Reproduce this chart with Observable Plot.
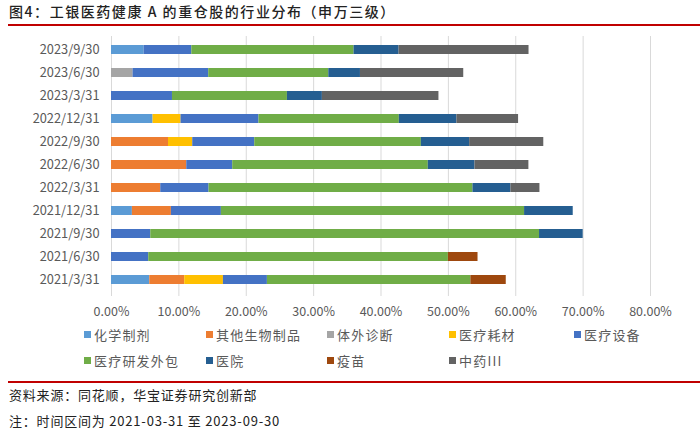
<!DOCTYPE html>
<html>
<head>
<meta charset="utf-8">
<script src="https://cdn.jsdelivr.net/npm/d3@7"></script>
<script src="https://cdn.jsdelivr.net/npm/@observablehq/plot@0.6"></script>
<style>
  html, body { margin: 0; padding: 0; background: #fff; }
  #wrap { position: relative; width: 700px; height: 435px; overflow: hidden; font-family: "Noto Sans CJK SC", "Noto Sans", sans-serif; }
  .title { position: absolute; left: 9px; top: 1px; font-size: 14px; font-weight: 500; color: #222; letter-spacing: 1.55px; white-space: nowrap; }
  .redline { position: absolute; left: 8px; right: 0; height: 2px; background: #c00000; }
  #chart { position: absolute; left: 0; top: 30px; }
  .leg { position: absolute; font-size: 13px; color: #595959; letter-spacing: 1.2px; white-space: nowrap; }
  .leg i { display: inline-block; width: 7px; height: 7px; margin-right: 3px; vertical-align: 2px; }
  .foot { position: absolute; left: 9px; font-size: 13px; color: #222; white-space: nowrap; letter-spacing: 0.8px; }
</style>
</head>
<body>
<div id="wrap">
  <div class="title">图4：工银医药健康 A 的重仓股的行业分布（申万三级）</div>
  <div class="redline" style="top:24px"></div>
  <div id="chart"></div>
  <div id="legend"></div>
  <div class="redline" style="top:381px"></div>
  <div class="foot" style="top:385px">资料来源：同花顺，华宝证券研究创新部</div>
  <div class="foot" style="top:411px">注：时间区间为 2021-03-31 至 2023-09-30</div>
</div>
<script>
const dates = ["2023/9/30","2023/6/30","2023/3/31","2022/12/31","2022/9/30","2022/6/30","2022/3/31","2021/12/31","2021/9/30","2021/6/30","2021/3/31"];
const seriesNames = ["化学制剂","其他生物制品","体外诊断","医疗耗材","医疗设备","医疗研发外包","医院","疫苗","中药III"];
const colors = ["#5b9bd5","#ed7d31","#a5a5a5","#ffc000","#4472c4","#70ad47","#255e91","#9e480e","#636363"];
const xTicks = [0,10,20,30,40,50,60,70,80];

const chemical   = [4.84, 0, 0, 6.17, 0, 0, 0, 3.10, 0, 0, 5.68];
const otherBio   = [0, 0, 0, 0, 8.46, 11.17, 7.31, 5.79, 0, 0, 5.19];
const ivd        = [0, 3.20, 0, 0, 0, 0, 0, 0, 0, 0, 0];
const consumable = [0, 0, 0, 4.15, 3.60, 0, 0, 0, 0, 0, 5.74];
const device     = [7.08, 11.23, 9.05, 11.57, 9.20, 6.82, 7.17, 7.42, 5.83, 5.53, 6.53];
const cro        = [24.08, 17.82, 17.06, 20.83, 24.73, 29.03, 39.17, 45.00, 57.70, 44.47, 30.20];
const hospital   = [6.68, 4.70, 5.19, 8.55, 7.17, 6.93, 5.64, 7.22, 6.48, 0, 0];
const vaccine    = [0, 0, 0, 0, 0, 0, 0, 0, 0, 4.40, 5.25];
const tcm        = [19.29, 15.33, 17.30, 9.15, 11.00, 8.00, 4.30, 0, 0, 0, 0];

const seriesValues = [chemical, otherBio, ivd, consumable, device, cro, hospital, vaccine, tcm];

const rows = [];
seriesNames.forEach((s, si) => {
  dates.forEach((d, di) => {
    rows.push({series: s, date: d, value: seriesValues[si][di]});
  });
});

const plot = Plot.plot({
  width: 700,
  height: 290,
  marginLeft: 111,
  marginRight: 50,
  marginTop: 6,
  marginBottom: 26,
  style: {fontFamily: "'Noto Sans CJK SC', sans-serif", fontSize: "12.5px", color: "#595959", background: "transparent"},
  x: {domain: [0, 80], ticks: xTicks, tickFormat: d => d.toFixed(2) + "%", tickSize: 0, tickPadding: 13, label: null},
  y: {domain: dates, paddingInner: 0.6, paddingOuter: 0.3, tickSize: 0, tickPadding: 12, label: null},
  color: {domain: seriesNames, range: colors},
  marks: [
    Plot.ruleX(xTicks.filter(d => d > 0), {stroke: "#d9d9d9", strokeWidth: 1, insetBottom: -2}),
    Plot.ruleX([0], {stroke: "#d9d9d9", strokeWidth: 1, insetBottom: -2}),
    Plot.barX(rows, Plot.stackX({x: "value", y: "date", fill: "series", order: seriesNames})),
    Plot.axisX({ticks: xTicks, tickFormat: d => d.toFixed(2) + "%", tickSize: 0, tickPadding: 13, fill: "#595959", fontSize: 12.5, label: null}),
    Plot.axisY({tickSize: 0, tickPadding: 12, fill: "#595959", fontSize: 12.8, label: null})
  ]
});
document.getElementById("chart").appendChild(plot);

const legendPos = [
  [84, 325], [206, 325], [327, 325], [449, 325], [574, 325],
  [84, 351], [206, 351], [327, 351], [449, 351]
];
const legend = document.getElementById("legend");
seriesNames.forEach((s, i) => {
  const el = document.createElement("div");
  el.className = "leg";
  el.style.left = legendPos[i][0] + "px";
  el.style.top = legendPos[i][1] + "px";
  el.innerHTML = `<i style="background:${colors[i]}"></i>${s}`;
  legend.appendChild(el);
});
</script>
</body>
</html>
